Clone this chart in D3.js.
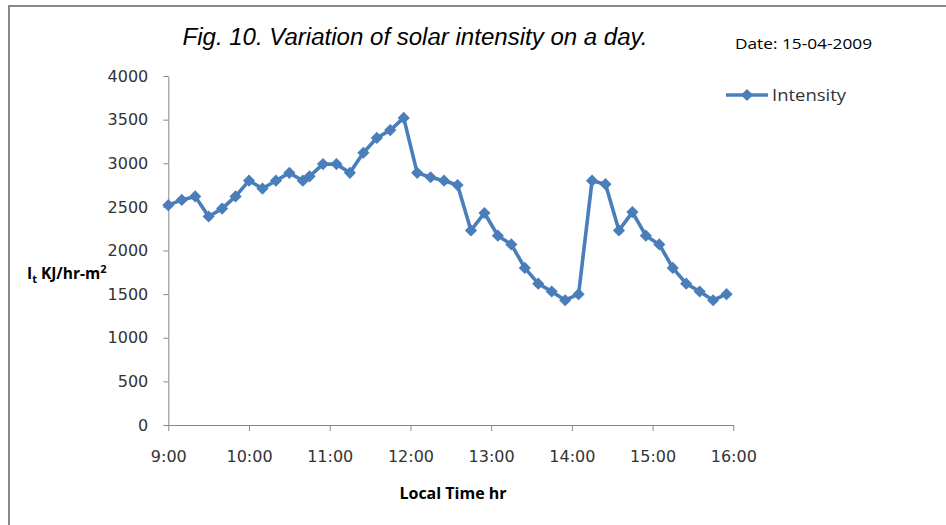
<!DOCTYPE html>
<html>
<head>
<meta charset="utf-8">
<script src="https://cdn.jsdelivr.net/npm/d3@7"></script>
<style>
  html, body { margin: 0; padding: 0; background: #fff; }
  svg { display: block; }
</style>
</head>
<body>
<svg id="chart" width="946" height="525"></svg>
<script>
// ---- data ----
const times = ["9:00","9:10","9:20","9:30","9:40","9:50","10:00","10:10","10:20","10:30","10:40",
  "10:45","10:55","11:05","11:15","11:25","11:35","11:45","11:55","12:05","12:15","12:25","12:35",
  "12:45","12:55","13:05","13:15","13:25","13:35","13:45","13:55","14:05","14:15","14:25","14:35",
  "14:45","14:55","15:05","15:15","15:25","15:35","15:45","15:55"];
const intensity = [2520,2580,2620,2390,2480,2620,2800,2710,2800,2890,2800,
  2850,2990,2990,2890,3120,3290,3380,3520,2890,2840,2800,2750,
  2230,2430,2170,2070,1800,1620,1530,1430,1500,2800,2760,2230,
  2440,2170,2070,1800,1620,1530,1430,1500];
const xTickLabels = ["9:00","10:00","11:00","12:00","13:00","14:00","15:00","16:00"];
const yTicks = [0,500,1000,1500,2000,2500,3000,3500,4000];
const seriesName = "Intensity";
const titleText = "Fig. 10. Variation of solar intensity on a day.";
const dateText = "Date: 15-04-2009";
const xTitle = "Local Time hr";

// ---- helpers ----
const toHours = s => { const [h, m] = s.split(":").map(Number); return h + m / 60; };
const data = times.map((t, i) => ({ t: toHours(t), v: intensity[i] }));

const svg = d3.select("#chart");
const W = 946, H = 525;
const axisColor = "#868686";
const textColor = "#333";
const lineColor = "#4A7EBB";
const numFont = "'DejaVu Sans', Verdana, sans-serif";
const labFont = "'Open Sans', 'Noto Sans', sans-serif";

// background + outer frame
svg.append("rect").attr("width", W).attr("height", H).attr("fill", "#fff");
svg.append("rect").attr("x", 9).attr("y", 6).attr("width", W + 20).attr("height", H + 20)
  .attr("fill", "none").attr("stroke", "#888").attr("stroke-width", 2);

const x = d3.scaleLinear().domain([9, 16]).range([168.3, 733.3]);
const y = d3.scaleLinear().domain([0, 4000]).range([425, 76]);

// y axis
const yAxis = svg.append("g").attr("transform", `translate(${x(9)},0)`)
  .call(d3.axisLeft(y).tickValues(yTicks).tickSize(5).tickSizeOuter(0).tickPadding(15)
    .tickFormat(d3.format("d")));
// x axis
const xAxis = svg.append("g").attr("transform", `translate(0,${y(0)})`)
  .call(d3.axisBottom(x).tickValues(xTickLabels.map(toHours)).tickSize(6).tickSizeOuter(0).tickPadding(20)
    .tickFormat((d, i) => xTickLabels[i]));

[yAxis, xAxis].forEach(g => {
  g.select(".domain").attr("stroke", axisColor).attr("stroke-width", 1);
  g.selectAll(".tick line").attr("stroke", axisColor).attr("stroke-width", 1);
  g.selectAll(".tick text").attr("fill", textColor).style("font-family", numFont).style("font-size", "16px");
});

// line
svg.append("path").datum(data)
  .attr("fill", "none").attr("stroke", lineColor).attr("stroke-width", 3.6)
  .attr("stroke-linejoin", "round")
  .attr("d", d3.line().x(d => x(d.t)).y(d => y(d.v)));

// markers
const diamond = d3.symbol().type(d3.symbolSquare).size(74);
svg.append("g").selectAll("path").data(data).join("path")
  .attr("d", diamond)
  .attr("transform", d => `translate(${x(d.t)},${y(d.v)}) rotate(45)`)
  .attr("fill", lineColor);

// title
svg.append("text").attr("x", 415).attr("y", 45).attr("text-anchor", "middle")
  .attr("textLength", 465).attr("lengthAdjust", "spacingAndGlyphs")
  .style("font-family", "'Liberation Sans Narrow', 'Liberation Sans', Arial, sans-serif")
  .style("font-style", "italic").style("font-size", "23px").attr("fill", "#000")
  .text(titleText);

// date
svg.append("text").attr("x", 735).attr("y", 49)
  .attr("textLength", 137).attr("lengthAdjust", "spacingAndGlyphs")
  .style("font-family", labFont).style("font-size", "15px").attr("fill", "#000")
  .text(dateText);

// legend
const lg = svg.append("g");
lg.append("line").attr("x1", 726).attr("x2", 768).attr("y1", 95).attr("y2", 95)
  .attr("stroke", lineColor).attr("stroke-width", 3.6);
lg.append("path").attr("d", diamond).attr("transform", "translate(747,95) rotate(45)").attr("fill", lineColor);
lg.append("text").attr("x", 772).attr("y", 101)
  .attr("textLength", 74).attr("lengthAdjust", "spacingAndGlyphs")
  .style("font-family", labFont).style("font-size", "16px").attr("fill", textColor)
  .text(seriesName);

// y axis title: I_t KJ/hr-m^2
const yt = svg.append("text").attr("x", 27).attr("y", 279)
  .style("font-family", labFont).style("font-weight", "bold").style("font-size", "15.5px").attr("fill", "#000");
yt.append("tspan").text("I");
yt.append("tspan").attr("dy", 4).style("font-size", "11px").text("t");
yt.append("tspan").attr("dy", -4).text(" KJ/hr-m");
yt.append("tspan").attr("dy", -6).style("font-size", "11px").text("2");

// x axis title
svg.append("text").attr("x", 453).attr("y", 499).attr("text-anchor", "middle")
  .style("font-family", labFont).style("font-weight", "bold").style("font-size", "16px").attr("fill", "#000")
  .text(xTitle);
</script>
</body>
</html>
